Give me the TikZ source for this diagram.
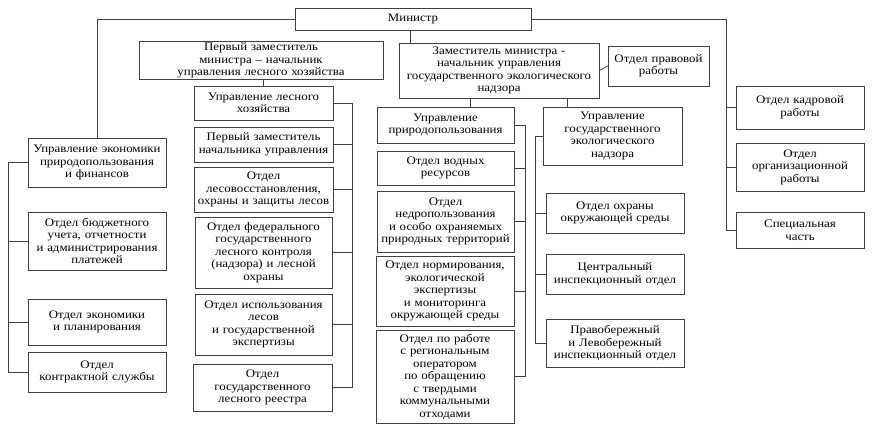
\documentclass[tikz,border=0pt]{standalone}
\usepackage{fontspec}
\setmainfont{Liberation Serif}[FakeStretch=1.12]
\usetikzlibrary{positioning}

% box from corner (x1,y1) to (x2,y2), reference pixels, y downwards
\newcommand{\orgbox}[6]{%
  \node[unit, minimum width={(#4-#2)*1pt}, minimum height={(#5-#3)*1pt},
    text width={(#4-#2-4)*1pt}] (#1) at ({(#2+#4)/2},{(#3+#5)/2}) {#6};}

\begin{document}
\begin{tikzpicture}
  [x=1pt, y=-1pt,
  unit/.style={rectangle, draw=black!75, line width=0.8pt, inner sep=1pt,
    align=center, font=\fontsize{11.5}{12.5}\selectfont},
  link/.style={draw=black!75, line width=0.8pt}]
  \useasboundingbox (0,0) rectangle (872,430);
  % top level
  \orgbox{minister}{295}{8}{531}{30}{Министр}
  \orgbox{first}{139}{43}{383}{78}{Первый заместитель министра -- начальник\\управления лесного хозяйства}
  \orgbox{deputy}{399}{43}{599}{98}{Заместитель министра -\\начальник управления\\государственного экологического\\надзора}
  \orgbox{legal}{608}{46}{709}{86}{Отдел правовой\\работы}
  % forestry
  \orgbox{forest}{194}{86}{333}{120}{Управление лесного\\хозяйства}
  \orgbox{fdep}{194}{127}{333}{162}{Первый заместитель\\начальника управления}
  \orgbox{restore}{194}{167}{333}{212}{Отдел\\лесовосстановления,\\охраны и защиты лесов}
  \orgbox{control}{195}{217}{332}{288}{Отдел федерального\\государственного\\лесного контроля\\(надзора) и лесной\\охраны}
  \orgbox{use}{195}{294}{332}{355}{Отдел использования\\лесов\\и государственной\\экспертизы}
  \orgbox{registry}{193}{364}{332}{411}{Отдел\\государственного\\лесного реестра}
  % economy
  \orgbox{economy}{28}{138}{166}{187}{Управление экономики\\природопользования\\и финансов}
  \orgbox{budget}{28}{212}{166}{270}{Отдел бюджетного\\учета, отчетности\\и администрирования\\платежей}
  \orgbox{plan}{28}{299}{166}{345}{Отдел экономики\\и планирования}
  \orgbox{contract}{28}{352}{166}{392}{Отдел\\контрактной службы}
  % nature use
  \orgbox{nature}{377}{107}{514}{143}{Управление\\природопользования}
  \orgbox{water}{377}{151}{514}{185}{Отдел водных\\ресурсов}
  \orgbox{subsoil}{377}{191}{514}{252}{Отдел\\недропользования\\и особо охраняемых\\природных территорий}
  \orgbox{norm}{376}{256}{514}{326}{Отдел нормирования,\\экологической\\экспертизы\\и мониторинга\\окружающей среды}
  \orgbox{waste}{376}{330}{514}{423}{Отдел по работе\\с региональным\\оператором\\по обращению\\с твердыми\\коммунальными\\отходами}
  % supervision
  \orgbox{super}{543}{107}{682}{165}{Управление\\государственного\\экологического\\надзора}
  \orgbox{protect}{546}{193}{684}{233}{Отдел охраны\\окружающей среды}
  \orgbox{central}{546}{254}{684}{294}{Центральный\\инспекционный отдел}
  \orgbox{banks}{546}{319}{684}{367}{Правобережный\\и Левобережный\\инспекционный отдел}
  % staff
  \orgbox{staff}{736}{86}{864}{129}{Отдел кадровой\\работы}
  \orgbox{orgw}{736}{143}{864}{191}{Отдел\\организационной\\работы}
  \orgbox{special}{736}{212}{864}{248}{Специальная\\часть}

  \coordinate (lbus) at (8,0);
  \coordinate (fbus) at (352,0);
  \coordinate (nbus) at (525,0);
  \coordinate (sbus) at (535,0);
  \coordinate (rbus) at (726,0);
  \begin{scope}[every path/.style=link]
    \path (minister.west) -| (economy.north);
    \path (minister.east) -| (rbus |- special.west) -- (special.west);
    \path (rbus |- staff.west) -- (staff.west);
    \path (rbus |- orgw.west) -- (orgw.west);
    \path (minister.south -| 410,0) -- (410,43);
    \path (first.south -| forest.north) -- (forest.north);
    \path (deputy.south -| 470,0) -- (470,107);
    \path (deputy.south -| 567,0) -- (567,107);
    \path (deputy.east) -- (legal.west);
    % left branch
    \path (economy.west) -- (lbus |- economy.west) |- (contract.west);
    \path (lbus |- budget.west) -- (budget.west);
    \path (lbus |- plan.west) -- (plan.west);
    % forestry branch
    \path (forest.east) -- (fbus |- forest.east) |- (registry.east);
    \foreach \n in {fdep,restore,control,use}
      \path (\n.east) -- (fbus |- \n.east);
    % nature use branch
    \path (nature.east) -- (nbus |- nature.east) |- (waste.east);
    \foreach \n in {water,subsoil,norm}
      \path (\n.east) -- (nbus |- \n.east);
    % supervision branch
    \path (super.west) -- (sbus |- super.west) |- (banks.west);
    \foreach \n in {protect,central}
      \path (\n.west) -- (sbus |- \n.west);
  \end{scope}
\end{tikzpicture}
\end{document}
